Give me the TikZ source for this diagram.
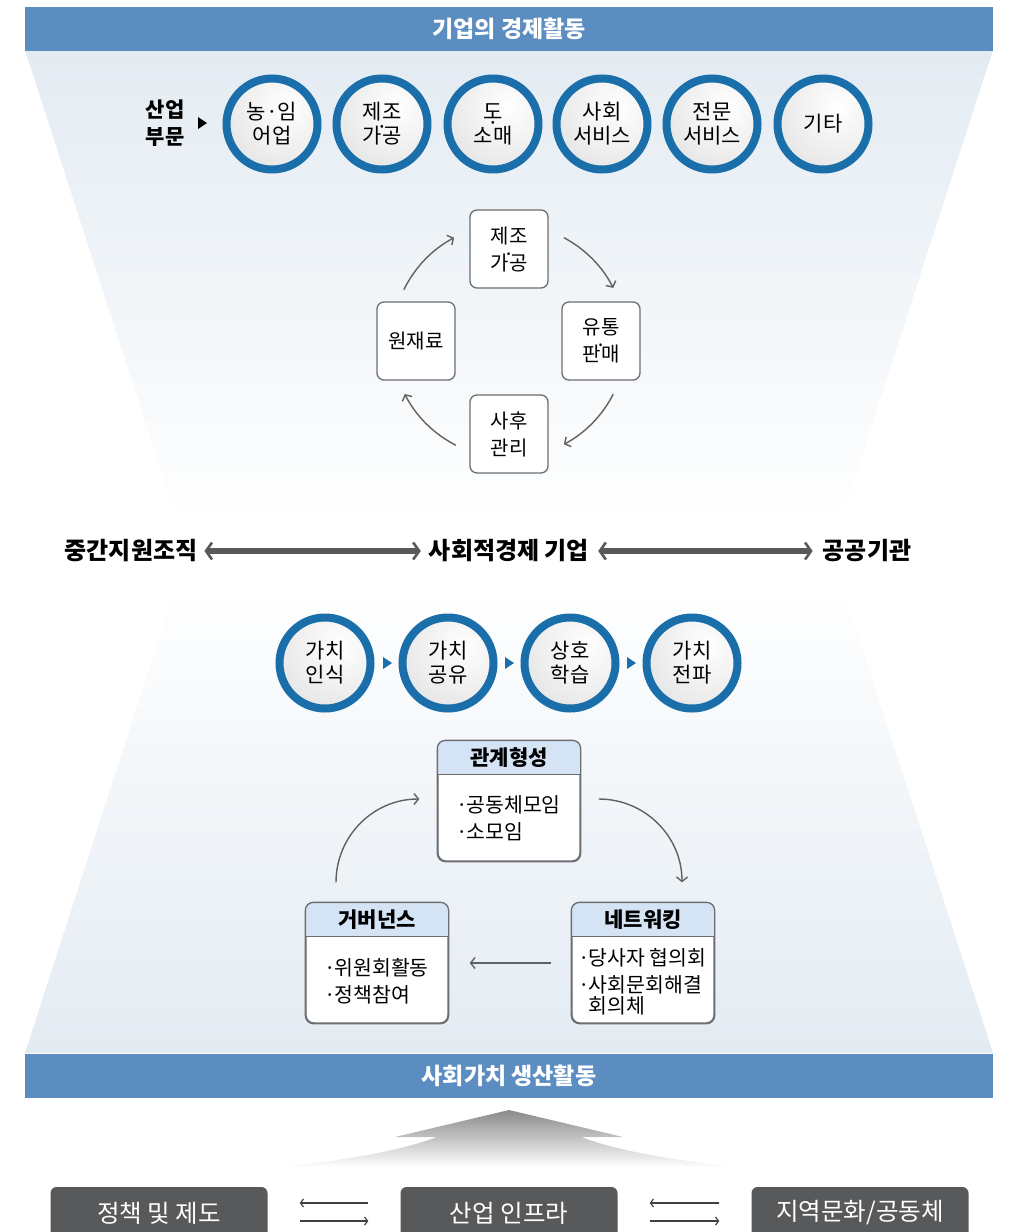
\documentclass[tikz,border=0pt]{standalone}
\usepackage{fontspec}
\setmainfont{Noto Sans CJK KR}
\usetikzlibrary{arrows.meta,positioning}

\definecolor{bandblue}{HTML}{5B8DC1}
\definecolor{ringblue}{HTML}{1A6EAA}
\definecolor{bgblue}{HTML}{E3EBF2}
\definecolor{headblue}{HTML}{D4E4F4}
\definecolor{linegray}{HTML}{6D6E71}
\definecolor{darkbox}{HTML}{58595B}

\newcommand{\updot}[1][0.45em]{\makebox[0pt]{\raisebox{#1}{·}}}
\newcommand{\listdot}{\makebox[0.45em]{·}}

\begin{document}
\begin{tikzpicture}[x=1pt, y=1pt,
    band/.style = {fill=bandblue, minimum width=968pt, minimum height=44pt, inner sep=0pt, text=white, font=\fontsize{23}{26}\selectfont\bfseries},
    sector/.style = {circle, draw=ringblue, line width=8pt, minimum size=91pt, inner sep=0pt, fill=white, align=center,
        font=\fontsize{21}{24}\selectfont,
        path picture={\shade[inner color=white, outer color=black!22] ([xshift=15pt,yshift=17pt]path picture bounding box.center) circle (150pt);}},
    stage/.style = {draw=linegray, line width=1.3pt, rounded corners=7pt, fill=white, minimum size=78pt, inner sep=0pt, align=center, font=\fontsize{20}{27}\selectfont},
    card/.style = {draw=linegray, line width=1.3pt, rounded corners=8pt, fill=white, minimum width=142pt, minimum height=120pt},
    headtext/.style = {font=\fontsize{21}{24}\selectfont\bfseries},
    bodytext/.style = {align=left, font=\fontsize{20.5}{27}\selectfont},
    midtext/.style = {inner sep=4pt, font=\fontsize{24}{27}\selectfont\bfseries},
    pillar/.style = {fill=darkbox, rounded corners=6pt, minimum width=217pt, minimum height=52pt, text=white, font=\fontsize{24.5}{27}\selectfont},
    flow/.style = {draw=black!62, line width=1.4pt, -{Straight Barb[length=4.5pt,width=11pt]}},
    link/.style = {draw=darkbox, line width=5.5pt, {Straight Barb[length=6pt,width=17pt,line width=2.6pt 0]}-{Straight Barb[length=6pt,width=17pt,line width=2.6pt 0]}},
    swap/.style = {draw=black!75, line width=1.2pt, -{Straight Barb[length=3pt,width=8pt]}}]

    \useasboundingbox (0,0) rectangle (1009,-1232);

    % background funnels
    \shade[top color=bgblue, bottom color=white!96!bgblue] (25,-50) -- (993,-50) -- (845,-508) -- (173,-508) -- cycle;
    \shade[top color=white!96!bgblue, bottom color=bgblue] (172,-598) -- (846,-598) -- (993,-1053) -- (25,-1053) -- cycle;

    \node[band] (econ) at (509,-28.5) {기업의 경제활동};
    \node[band] (value) at (509,-1075.5) {사회가치 생산활동};

    % industry sectors
    \node[font=\fontsize{21}{27}\selectfont\bfseries, align=center] (sector) at (165,-123) {산업\\부문};
    \fill (198,-117) -- (207,-123) -- (198,-129) -- cycle;
    \node[sector] (agri) at (272,-124) {농·임\\어업};
    \node[sector] (manu) at (382,-124) {제조\\가\updot 공};
    \node[sector] (retail) at (493,-124) {도\\소\updot[0.6em]매};
    \node[sector] (social) at (602,-124) {사회\\서비스};
    \node[sector] (pro) at (712,-124) {전문\\서비스};
    \node[sector] (misc) at (823,-124) {기타};

    % value chain
    \coordinate (hub) at (509,-341);
    \node[stage] (make) at (509,-249) {제조\\가\updot 공};
    \node[stage] (raw) at (416,-341) {원재료};
    \node[stage] (sell) at (601,-341) {유통\\판\updot 매};
    \node[stage] (care) at (509,-434) {사후\\관리};

    \draw[flow] ([shift={(154:117)}]hub) arc[start angle=154, end angle=118, radius=117];
    \draw[flow] ([shift={(62:117)}]hub) arc[start angle=62, end angle=27, radius=117];
    \draw[flow] ([shift={(-27:117)}]hub) arc[start angle=-27, end angle=-62, radius=117];
    \draw[flow] ([shift={(-117:117)}]hub) arc[start angle=-117, end angle=-153, radius=117];

    % actors
    \node[midtext] (inter) at (131,-551) {중간지원조직};
    \node[midtext] (firm) at (509,-551) {사회적경제 기업};
    \node[midtext] (public) at (867,-551) {공공기관};
    \draw[link, shorten <=3pt, shorten >=4pt] (inter) -- (firm);
    \draw[link, shorten <=5pt, shorten >=6pt] (firm) -- (public);

    % value steps
    \node[sector] (v1) at (325,-663) {가치\\인식};
    \node[sector] (v2) at (448,-663) {가치\\공유};
    \node[sector] (v3) at (570,-663) {상호\\학습};
    \node[sector] (v4) at (692,-663) {가치\\전파};
    \foreach \x in {383,505,627}
        \fill[ringblue] (\x,-657) -- (\x+9,-663) -- (\x,-669) -- cycle;

    % relation cycle
    \node[card] (rel) at (509,-801) {};
    \node[card] (gov) at (377,-963) {};
    \node[card] (net) at (643,-963) {};
    \foreach \n in {rel,gov,net} {
        \begin{scope}
            \clip[rounded corners=8pt] (\n.south west) rectangle (\n.north east);
            \fill[headblue] (\n.north west) rectangle ([yshift=-34pt]\n.north east);
        \end{scope}
        \draw[linegray, line width=1.3pt] ([yshift=-34pt]\n.north west) -- ([yshift=-34pt]\n.north east);
        \draw[linegray, line width=1.3pt, rounded corners=8pt] (\n.south west) rectangle (\n.north east);
    }
    \node[headtext] (relhead) at ([yshift=-17pt]rel.north) {관계형성};
    \node[headtext] (govhead) at ([yshift=-17pt]gov.north) {거버넌스};
    \node[headtext] (nethead) at ([yshift=-17pt]net.north) {네트워킹};
    \node[bodytext] (relbody) at ([yshift=-17pt]rel.center) {\listdot 공동체모임\\\listdot 소모임};
    \node[bodytext] (govbody) at ([yshift=-18pt]gov.center) {\listdot 위원회활동\\\listdot 정책참여};
    \node[bodytext] (netbody) at ([yshift=-19pt]net.center) {\listdot 당사자 협의회\\\listdot 사회문회해결\\[-6pt]\phantom{\listdot}회의체};

    \draw[flow] ([shift={(-41pt,20pt)}]gov.north) to[out=90, in=180] ([shift={(-18pt,2pt)}]rel.west);
    \draw[flow] ([shift={(18pt,2pt)}]rel.east) to[out=0, in=90] ([shift={(39pt,20pt)}]net.north);
    \draw[flow] ([xshift=-20pt]net.west) -- ([xshift=21pt]gov.east);

    % foundations
    \shade[top color=black!46, bottom color=white] (509,-1110) -- (623,-1137) -- (581,-1137)
        .. controls (620,-1152) and (690,-1163) .. (745,-1167) -- (273,-1167)
        .. controls (328,-1163) and (398,-1152) .. (437,-1137) -- (395,-1137) -- cycle;

    \node[pillar] (policy) at (159,-1213) {정책 및 제도};
    \node[pillar] (infra) at (509,-1213) {산업 인프라};
    \node[pillar] (local) at (860,-1213) {지역문화/공동체};

    \draw[swap, shorten <=32pt, shorten >=32pt] ([yshift=10pt]infra.west) -- ([yshift=10pt]policy.east);
    \draw[swap, shorten <=32pt, shorten >=32pt] ([yshift=-8pt]policy.east) -- ([yshift=-8pt]infra.west);
    \draw[swap, shorten <=32pt, shorten >=32pt] ([yshift=10pt]local.west) -- ([yshift=10pt]infra.east);
    \draw[swap, shorten <=32pt, shorten >=32pt] ([yshift=-8pt]infra.east) -- ([yshift=-8pt]local.west);
\end{tikzpicture}
\end{document}
